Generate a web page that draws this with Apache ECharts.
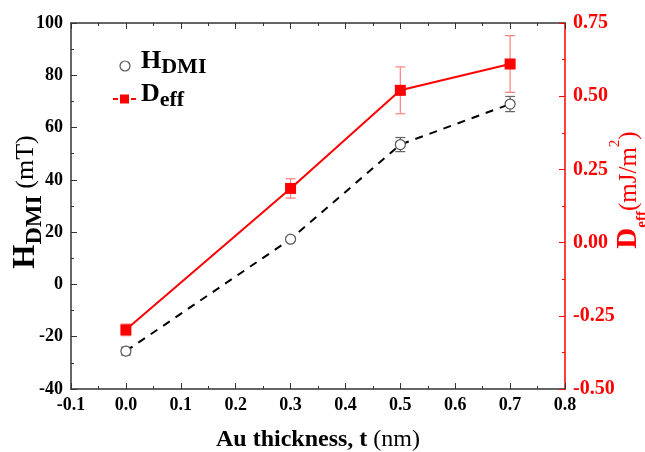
<!DOCTYPE html>
<html><head><meta charset="utf-8">
<script src="https://cdn.jsdelivr.net/npm/echarts@6/dist/echarts.min.js"></script>
<style>html,body{margin:0;padding:0;background:#fff}#c{width:645px;height:452px}</style>
</head><body><div id="c"></div>
<script>
const thickness = [0.0, 0.3, 0.5, 0.7];
const hdmi = [-25.5, 17.3, 53.5, 69.0];
const hdmiErr = [1.5, 0.8, 2.7, 2.9];
const deff = [-0.298, 0.185, 0.52, 0.61];
const deffErr = [0.02, 0.033, 0.08, 0.097];
const xTicks = [-0.1, 0.8, 0.1];
const yLeftTicks = [-40, 100, 20];
const yRightTicks = [-0.5, 0.75, 0.25];

const FONT = '"Liberation Serif", "DejaVu Serif", serif';
const chart = echarts.init(document.getElementById('c'));

function errItem(color) {
  return function (params, api) {
    const x = api.value(0), y = api.value(1), e = api.value(2);
    const lo = api.coord([x, y - e]);
    const hi = api.coord([x, y + e]);
    const w = 5;
    const st = { stroke: color, lineWidth: 1.2 };
    return { type: 'group', children: [
      { type: 'line', shape: { x1: lo[0], y1: lo[1], x2: hi[0], y2: hi[1] }, style: st },
      { type: 'line', shape: { x1: lo[0] - w, y1: lo[1], x2: lo[0] + w, y2: lo[1] }, style: st },
      { type: 'line', shape: { x1: hi[0] - w, y1: hi[1], x2: hi[0] + w, y2: hi[1] }, style: st }
    ]};
  };
}

const tickLabel = { fontFamily: FONT, fontWeight: 'bold', fontSize: 18, color: '#000' };

chart.setOption({
  animation: false,
  backgroundColor: '#fff',
  grid: { left: 71, right: 80, top: 23, bottom: 63, outerBoundsMode: 'none', containLabel: false },
  xAxis: [{
    type: 'value', min: xTicks[0], max: xTicks[1], interval: xTicks[2],
    axisLine: { onZero: false, lineStyle: { color: '#333', width: 1.5 } },
    axisTick: { inside: true, length: 6, lineStyle: { color: '#333' } },
    minorTick: { show: true, splitNumber: 2, length: 3, lineStyle: { color: '#333' } },
    splitLine: { show: false },
    axisLabel: Object.assign({ margin: 7, formatter: v => v.toFixed(1) }, tickLabel),
    name: '{b|Au thickness, t }{n|(nm)}', nameLocation: 'middle', nameGap: 39,
    nameTextStyle: { rich: {
      b: { fontFamily: FONT, fontWeight: 'bold', fontSize: 24, color: '#000' },
      n: { fontFamily: FONT, fontSize: 24, color: '#000' } } }
  }, {
    type: 'value', position: 'top', min: xTicks[0], max: xTicks[1], interval: xTicks[2],
    axisLine: { show: true, onZero: false, lineStyle: { color: '#333', width: 1.5 } },
    axisTick: { show: true, inside: true, length: 6, lineStyle: { color: '#333' } },
    minorTick: { show: true, splitNumber: 2, length: 3, lineStyle: { color: '#333' } },
    splitLine: { show: false }, axisLabel: { show: false }
  }],
  yAxis: [{
    type: 'value', min: yLeftTicks[0], max: yLeftTicks[1], interval: yLeftTicks[2],
    axisLine: { show: true, onZero: false, lineStyle: { color: '#333', width: 1.5 } },
    axisTick: { inside: true, length: 6, lineStyle: { color: '#333' } },
    minorTick: { show: true, splitNumber: 2, length: 3, lineStyle: { color: '#333' } },
    splitLine: { show: false },
    axisLabel: Object.assign({ margin: 8 }, tickLabel)
  }, {
    type: 'value', position: 'right', min: yRightTicks[0], max: yRightTicks[1], interval: yRightTicks[2],
    axisLine: { show: true, onZero: false, lineStyle: { color: '#ff0000', width: 1.5 } },
    axisTick: { show: true, inside: true, length: 6, lineStyle: { color: '#ff0000' } },
    minorTick: { show: true, splitNumber: 2, length: 3, lineStyle: { color: '#ff0000' } },
    splitLine: { show: false },
    axisLabel: Object.assign({}, tickLabel, { margin: 8, fontSize: 20, color: '#ff0000', formatter: v => v.toFixed(2) })
  }],
  series: [
    { type: 'custom', xAxisIndex: 0, yAxisIndex: 0, renderItem: errItem('#666'),
      data: thickness.map((x, i) => [x, hdmi[i], hdmiErr[i]]), z: 1 },
    { type: 'custom', xAxisIndex: 0, yAxisIndex: 1, renderItem: errItem('#ff8080'),
      data: thickness.map((x, i) => [x, deff[i], deffErr[i]]), z: 1 },
    { name: 'HDMI', type: 'line', xAxisIndex: 0, yAxisIndex: 0,
      data: thickness.map((x, i) => [x, hdmi[i]]),
      lineStyle: { color: '#000', width: 2, type: [8, 7] },
      symbol: 'circle', symbolSize: 10,
      itemStyle: { color: '#fff', borderColor: '#555', borderWidth: 1.2 }, z: 3 },
    { name: 'Deff', type: 'line', xAxisIndex: 0, yAxisIndex: 1,
      data: thickness.map((x, i) => [x, deff[i]]),
      lineStyle: { color: '#ff0000', width: 2 },
      symbol: 'rect', symbolSize: 11,
      itemStyle: { color: '#ff0000' }, z: 4 }
  ],
  graphic: [
    { type: 'text', x: 26, y: 202, rotation: Math.PI / 2, style: {
      text: '{m|H}{s|DMI}{n| (mT)}', align: 'center', verticalAlign: 'middle', rich: {
        m: { fontFamily: FONT, fontWeight: 'bold', fontSize: 31, fill: '#000', lineHeight: 42, verticalAlign: 'middle' },
        s: { fontFamily: FONT, fontWeight: 'bold', fontSize: 24, fill: '#000', lineHeight: 24, verticalAlign: 'bottom' },
        n: { fontFamily: FONT, fontSize: 26, fill: '#000', lineHeight: 42, verticalAlign: 'middle' } } } },
    { type: 'text', x: 629, y: 190, rotation: Math.PI / 2, style: {
      text: '{m|D}{s|eff}{n|(mJ/m}{p|2}{n|)}', align: 'center', verticalAlign: 'middle', rich: {
        m: { fontFamily: FONT, fontWeight: 'bold', fontSize: 29, fill: '#ff0000', lineHeight: 42, verticalAlign: 'middle' },
        s: { fontFamily: FONT, fontWeight: 'bold', fontSize: 15, fill: '#ff0000', lineHeight: 16, verticalAlign: 'bottom' },
        n: { fontFamily: FONT, fontSize: 25, fill: '#ff0000', lineHeight: 42, verticalAlign: 'middle' },
        p: { fontFamily: FONT, fontSize: 15, fill: '#ff0000', lineHeight: 32, verticalAlign: 'top' } } } },
    { type: 'circle', shape: { cx: 125, cy: 66, r: 5 }, style: { fill: '#fff', stroke: '#555', lineWidth: 1.2 } },
    { type: 'text', left: 141, top: 48, style: {
      text: '{m|H}{s|DMI}', rich: {
        m: { fontFamily: FONT, fontWeight: 'bold', fontSize: 26, fill: '#000', lineHeight: 34, verticalAlign: 'middle' },
        s: { fontFamily: FONT, fontWeight: 'bold', fontSize: 22, fill: '#000', lineHeight: 22, verticalAlign: 'bottom' } } } },
    { type: 'line', shape: { x1: 113, y1: 99, x2: 137, y2: 99 }, style: { stroke: '#ff0000', lineWidth: 2, lineDash: [5, 4] } },
    { type: 'rect', shape: { x: 120, y: 94.5, width: 9, height: 9 }, style: { fill: '#ff0000' } },
    { type: 'text', left: 141, top: 81, style: {
      text: '{m|D}{s|eff}', rich: {
        m: { fontFamily: FONT, fontWeight: 'bold', fontSize: 26, fill: '#000', lineHeight: 34, verticalAlign: 'middle' },
        s: { fontFamily: FONT, fontWeight: 'bold', fontSize: 22, fill: '#000', lineHeight: 22, verticalAlign: 'bottom' } } } }
  ]
});
</script></body></html>
